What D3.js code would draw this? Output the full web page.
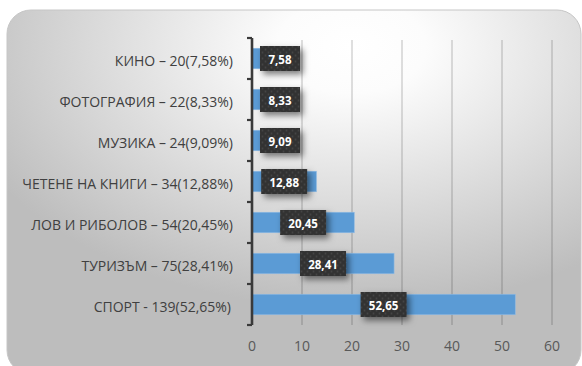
<!DOCTYPE html>
<html>
<head>
<meta charset="utf-8">
<script src="https://cdn.jsdelivr.net/npm/d3@7"></script>
<style>
  html, body { margin: 0; padding: 0; background: #ffffff; }
  svg { display: block; }
</style>
</head>
<body>
<svg id="chart" width="582" height="366"></svg>
<script>
// Hobbies of respondents: share of answers, in percent
const categories = [
  "КИНО – 20(7,58%)",
  "ФОТОГРАФИЯ – 22(8,33%)",
  "МУЗИКА – 24(9,09%)",
  "ЧЕТЕНЕ НА КНИГИ – 34(12,88%)",
  "ЛОВ И РИБОЛОВ – 54(20,45%)",
  "ТУРИЗЪМ – 75(28,41%)",
  "СПОРТ - 139(52,65%)"
];
const percentValues = [7.58, 8.33, 9.09, 12.88, 20.45, 28.41, 52.65];
const xTickValues = [0, 10, 20, 30, 40, 50, 60];

const svg = d3.select("#chart");
const defs = svg.append("defs");

// Card background: light centre fading to grey edges
const bg = defs.append("radialGradient")
  .attr("id", "cardFill")
  .attr("cx", 0.6).attr("cy", 0.1).attr("r", 0.72)
  .attr("fx", 0.6).attr("fy", 0.1);
bg.append("stop").attr("offset", 0).attr("stop-color", "#ffffff");
bg.append("stop").attr("offset", 0.18).attr("stop-color", "#fcfcfc");
bg.append("stop").attr("offset", 1).attr("stop-color", "#bdbdbd");

// Dotted dark texture for the value labels
const pat = defs.append("pattern")
  .attr("id", "dots").attr("patternUnits", "userSpaceOnUse")
  .attr("width", 6).attr("height", 6);
pat.append("rect").attr("width", 6).attr("height", 6).attr("fill", "#333333");
pat.append("circle").attr("cx", 1.5).attr("cy", 1.5).attr("r", 0.9).attr("fill", "#454545");
pat.append("circle").attr("cx", 4.5).attr("cy", 4.5).attr("r", 0.9).attr("fill", "#454545");

const shadow = defs.append("filter").attr("id", "labelShadow")
  .attr("x", "-40%").attr("y", "-50%").attr("width", "190%").attr("height", "220%");
shadow.append("feDropShadow")
  .attr("dx", 3).attr("dy", 3.5).attr("stdDeviation", 3)
  .attr("flood-color", "#000").attr("flood-opacity", 0.5);

svg.append("rect")
  .attr("x", 7).attr("y", 10).attr("width", 574).attr("height", 364)
  .attr("rx", 24).attr("ry", 24)
  .attr("fill", "url(#cardFill)")
  .attr("stroke", "#c6c6c6").attr("stroke-width", 1);

const plot = { left: 252, right: 552, top: 38, bottom: 325 };

const x = d3.scaleLinear().domain([0, 60]).range([plot.left, plot.right]);
const y = d3.scaleBand().domain(categories)
  .range([plot.top, plot.bottom]).paddingInner(0.5).paddingOuter(0.25);

// Vertical gridlines
svg.append("g")
  .selectAll("line")
  .data(xTickValues.filter(d => d > 0))
  .join("line")
  .attr("x1", d => x(d)).attr("x2", d => x(d))
  .attr("y1", plot.top + 2).attr("y2", plot.bottom)
  .attr("stroke", "#000").attr("stroke-opacity", 0.17).attr("stroke-width", 1.5);

// Bars
svg.append("g")
  .selectAll("rect")
  .data(percentValues)
  .join("rect")
  .attr("x", x(0))
  .attr("y", (d, i) => y(categories[i]))
  .attr("width", d => x(d) - x(0))
  .attr("height", y.bandwidth())
  .attr("fill", "#5b9bd5")
  .attr("stroke", "#8fbbe4").attr("stroke-width", 0.6);

// Category axis with tick marks between bands
const yAxis = svg.append("g");
yAxis.append("line")
  .attr("x1", x(0)).attr("x2", x(0))
  .attr("y1", plot.top).attr("y2", plot.bottom)
  .attr("stroke", "#3a3a3a").attr("stroke-width", 2.6);
const step = y.step();
const boundaries = d3.range(categories.length + 1).map(i => plot.top + i * step);
yAxis.selectAll("line.tick")
  .data(boundaries)
  .join("line").attr("class", "tick")
  .attr("x1", x(0) - 5).attr("x2", x(0))
  .attr("y1", d => d).attr("y2", d => d)
  .attr("stroke", "#3a3a3a").attr("stroke-width", 2.2);

yAxis.selectAll("text")
  .data(categories)
  .join("text")
  .attr("x", d => d.startsWith("СПОРТ") ? 231 : 233)
  .attr("y", d => y(d) + y.bandwidth() / 2 + 1.5)
  .attr("text-anchor", "end")
  .attr("dominant-baseline", "central")
  .attr("font-family", "'Open Sans', sans-serif")
  .attr("font-size", 14)
  .attr("fill", "#404040")
  .text(d => d);

// Value axis labels
svg.append("g")
  .selectAll("text")
  .data(xTickValues)
  .join("text")
  .attr("x", d => x(d))
  .attr("y", 345)
  .attr("text-anchor", "middle")
  .attr("dominant-baseline", "central")
  .attr("font-family", "'Open Sans', sans-serif")
  .attr("font-size", 14)
  .attr("fill", "#595959")
  .text(d => d);

// Value labels in dark boxes, centred on each bar
const fmt = d => d3.format(".2f")(d).replace(".", ",");
const labels = svg.append("g")
  .selectAll("g")
  .data(percentValues)
  .join("g");
labels.each(function (d, i) {
  const g = d3.select(this);
  const txt = fmt(d);
  const w = txt.length > 4 ? 46 : 40;
  const h = 25;
  const cx = Math.max((x(0) + x(d)) / 2, x(0) + 8 + w / 2);
  const cy = y(categories[i]) + y.bandwidth() / 2;
  g.append("rect")
    .attr("x", cx - w / 2).attr("y", cy - h / 2)
    .attr("width", w).attr("height", h)
    .attr("fill", "url(#dots)")
    .attr("filter", "url(#labelShadow)");
  g.append("text")
    .attr("x", cx).attr("y", cy + 0.5)
    .attr("text-anchor", "middle")
    .attr("dominant-baseline", "central")
    .attr("font-family", "'Open Sans', sans-serif")
    .attr("font-weight", 700)
    .attr("font-size", 11.5)
    .attr("fill", "#ffffff")
    .text(txt);
});
</script>
</body>
</html>
